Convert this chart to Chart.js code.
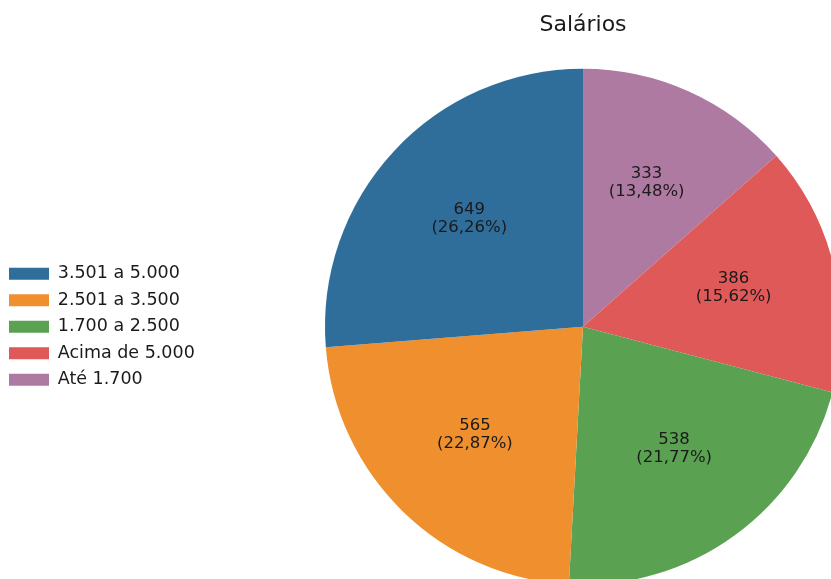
<!DOCTYPE html>
<html>
<head>
<meta charset="utf-8">
<script src="https://cdn.jsdelivr.net/npm/chart.js@4.4.1/dist/chart.umd.min.js"></script>
<style>
  html, body { margin: 0; padding: 0; background: #fff; overflow: hidden; }
</style>
</head>
<body>
<canvas id="grafico" width="831" height="579"></canvas>
<script>
// dados
const categorias = ['3.501 a 5.000', '2.501 a 3.500', '1.700 a 2.500', 'Acima de 5.000', 'Até 1.700'];
const valores = [649, 565, 538, 386, 333];
const cores = ['#2f6e9a', '#f08f2e', '#5aa152', '#e05959', '#af7aa1'];
const titulo = 'Salários';

// chart.js desenha no sentido horario, o original vai anti-horario
const labelsInv = categorias.slice().reverse();
const valoresInv = valores.slice().reverse();
const coresInv = cores.slice().reverse();
const total = valores.reduce(function(a, b) { return a + b; }, 0);

const larguraLegenda = {
    id: 'larguraLegenda',
    beforeInit: function(chart) {
        const fitOriginal = chart.legend.fit;
        chart.legend.fit = function() {
            fitOriginal.bind(chart.legend)();
            this.width = 335;
        };
    }
};

const rotulos = {
    id: 'rotulos',
    afterDatasetsDraw: function(chart) {
        const ctx = chart.ctx;
        const meta = chart.getDatasetMeta(0);
        ctx.save();
        ctx.font = '16.5px "DejaVu Sans"';
        ctx.fillStyle = '#1a1a1a';
        ctx.textAlign = 'center';
        ctx.textBaseline = 'middle';
        meta.data.forEach(function(arc, i) {
            const p = arc.getProps(['x', 'y', 'startAngle', 'endAngle', 'outerRadius'], true);
            const meio = (p.startAngle + p.endAngle) / 2;
            const r = p.outerRadius * 0.6;
            const x = p.x + Math.cos(meio) * r;
            const y = p.y + Math.sin(meio) * r - 3;
            const v = valoresInv[i];
            const pct = (v / total * 100).toFixed(2).replace('.', ',');
            ctx.fillText(String(v), x, y - 9);
            ctx.fillText('(' + pct + '%)', x, y + 9);
        });
        ctx.restore();
    }
};

new Chart(document.getElementById('grafico'), {
    type: 'pie',
    data: {
        labels: labelsInv,
        datasets: [{
            data: valoresInv,
            backgroundColor: coresInv,
            borderWidth: 0,
            radius: 258,
            clip: false
        }]
    },
    options: {
        responsive: false,
        animation: false,
        events: [],
        layout: { padding: 0 },
        plugins: {
            title: {
                display: true,
                text: titulo,
                fullSize: false,
                color: '#1a1a1a',
                font: { family: 'DejaVu Sans', size: 22, weight: 'normal' },
                padding: { top: 12, bottom: 36 }
            },
            legend: {
                position: 'left',
                fullSize: false,
                reverse: true,
                labels: {
                    color: '#1a1a1a',
                    font: { family: 'DejaVu Sans', size: 17.5 },
                    boxWidth: 40,
                    boxHeight: 12,
                    padding: 9
                }
            },
            tooltip: { enabled: false }
        }
    },
    plugins: [larguraLegenda, rotulos]
});
</script>
</body>
</html>
